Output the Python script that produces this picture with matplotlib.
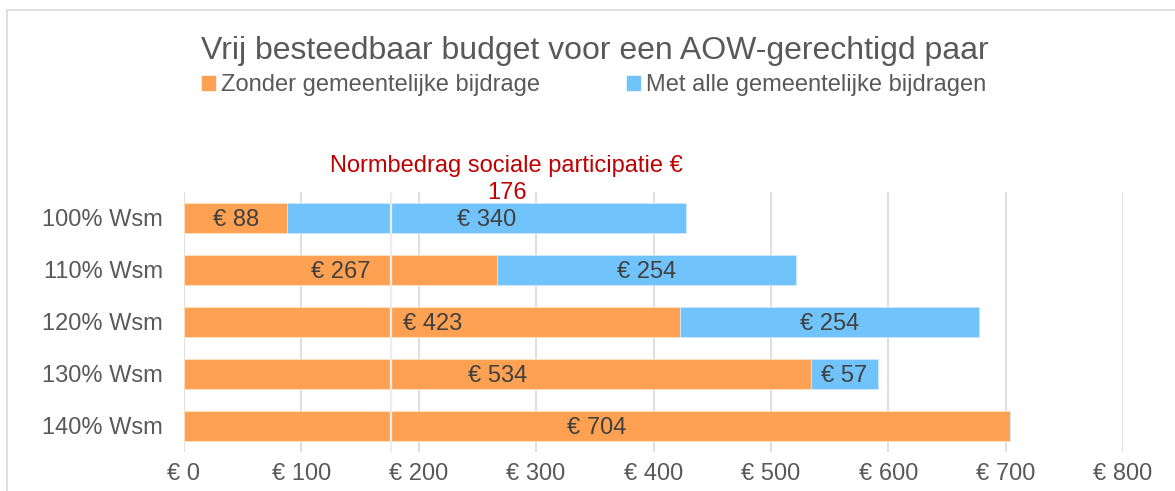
import matplotlib.pyplot as plt
from matplotlib.patches import Patch, Rectangle

plt.rcParams['font.family'] = ['Liberation Sans', 'DejaVu Sans']

categories = ['100% Wsm', '110% Wsm', '120% Wsm', '130% Wsm', '140% Wsm']
zonder = [88, 267, 423, 534, 704]
met_alle = [340, 254, 254, 57, 0]
normbedrag = 176
xticks = [0, 100, 200, 300, 400, 500, 600, 700, 800]

orange = '#FFA152'
blue = '#71C3FB'

fig = plt.figure(figsize=(11.75, 4.91), dpi=100)
ax = fig.add_axes([184 / 1175, 1 - 452 / 491, (1123 - 184) / 1175, 260 / 491])

# chart frame, partly outside the picture
fig.patches.append(Rectangle((7 / 1175, -0.1), 1.2, 1 - 10 / 491 + 0.1,
                             transform=fig.transFigure, fill=False,
                             edgecolor='#d9d9d9', lw=1.2))

y = range(len(categories))
b1 = ax.barh(y, zonder, height=0.58, color=orange, edgecolor='#ffe0c4', lw=0.6,
             label='Zonder gemeentelijke bijdrage', zorder=2)
b2 = ax.barh(y, met_alle, left=zonder, height=0.58, color=blue, edgecolor='#cfe9fd',
             lw=0.6, label='Met alle gemeentelijke bijdragen', zorder=2)

for bars, vals in ((b1, zonder), (b2, met_alle)):
    texts = ax.bar_label(bars, labels=[f'€ {v}' if v else '' for v in vals],
                         label_type='center', fontsize=17, color='#404040')
    for t in texts:
        t.set_va('center_baseline')

ax.axvline(normbedrag, color='#ececec', lw=1.6, zorder=3)
ax.text(275, 0.955, 'Normbedrag sociale participatie €\n176', transform=ax.get_xaxis_transform(),
        ha='center', va='bottom', color='#C00000', fontsize=17, linespacing=1.3)

ax.set_xlim(0, 800)
ax.set_ylim(len(categories) - 0.5, -0.5)
ax.set_xticks(xticks)
ax.set_xticklabels([f'€ {v}' for v in xticks])
ax.set_yticks(list(y))
ax.set_yticklabels(categories)
ax.tick_params(axis='both', length=0, labelsize=17, labelcolor='#595959')
ax.tick_params(axis='x', pad=8)
ax.tick_params(axis='y', pad=15)
ax.grid(axis='x', color='#d9d9d9', lw=1.2, zorder=0)
ax.set_axisbelow(True)
for s in ax.spines.values():
    s.set_visible(False)

fig.text(595 / 1175, 1 - 59 / 491, 'Vrij besteedbaar budget voor een AOW-gerechtigd paar',
         ha='center', va='baseline', fontsize=23, color='#595959')

handles = [Patch(color=orange), Patch(color=blue)]
fig.legend(handles, ['Zonder gemeentelijke bijdrage', 'Met alle gemeentelijke bijdragen'],
           loc='center', bbox_to_anchor=(594 / 1175, 1 - 85 / 491), ncol=2, frameon=False,
           fontsize=17, labelcolor='#595959', handlelength=0.55, handleheight=0.55,
           handletextpad=0.25, columnspacing=3.7, borderaxespad=0, borderpad=0)

fig.savefig('out.png', dpi=100)
